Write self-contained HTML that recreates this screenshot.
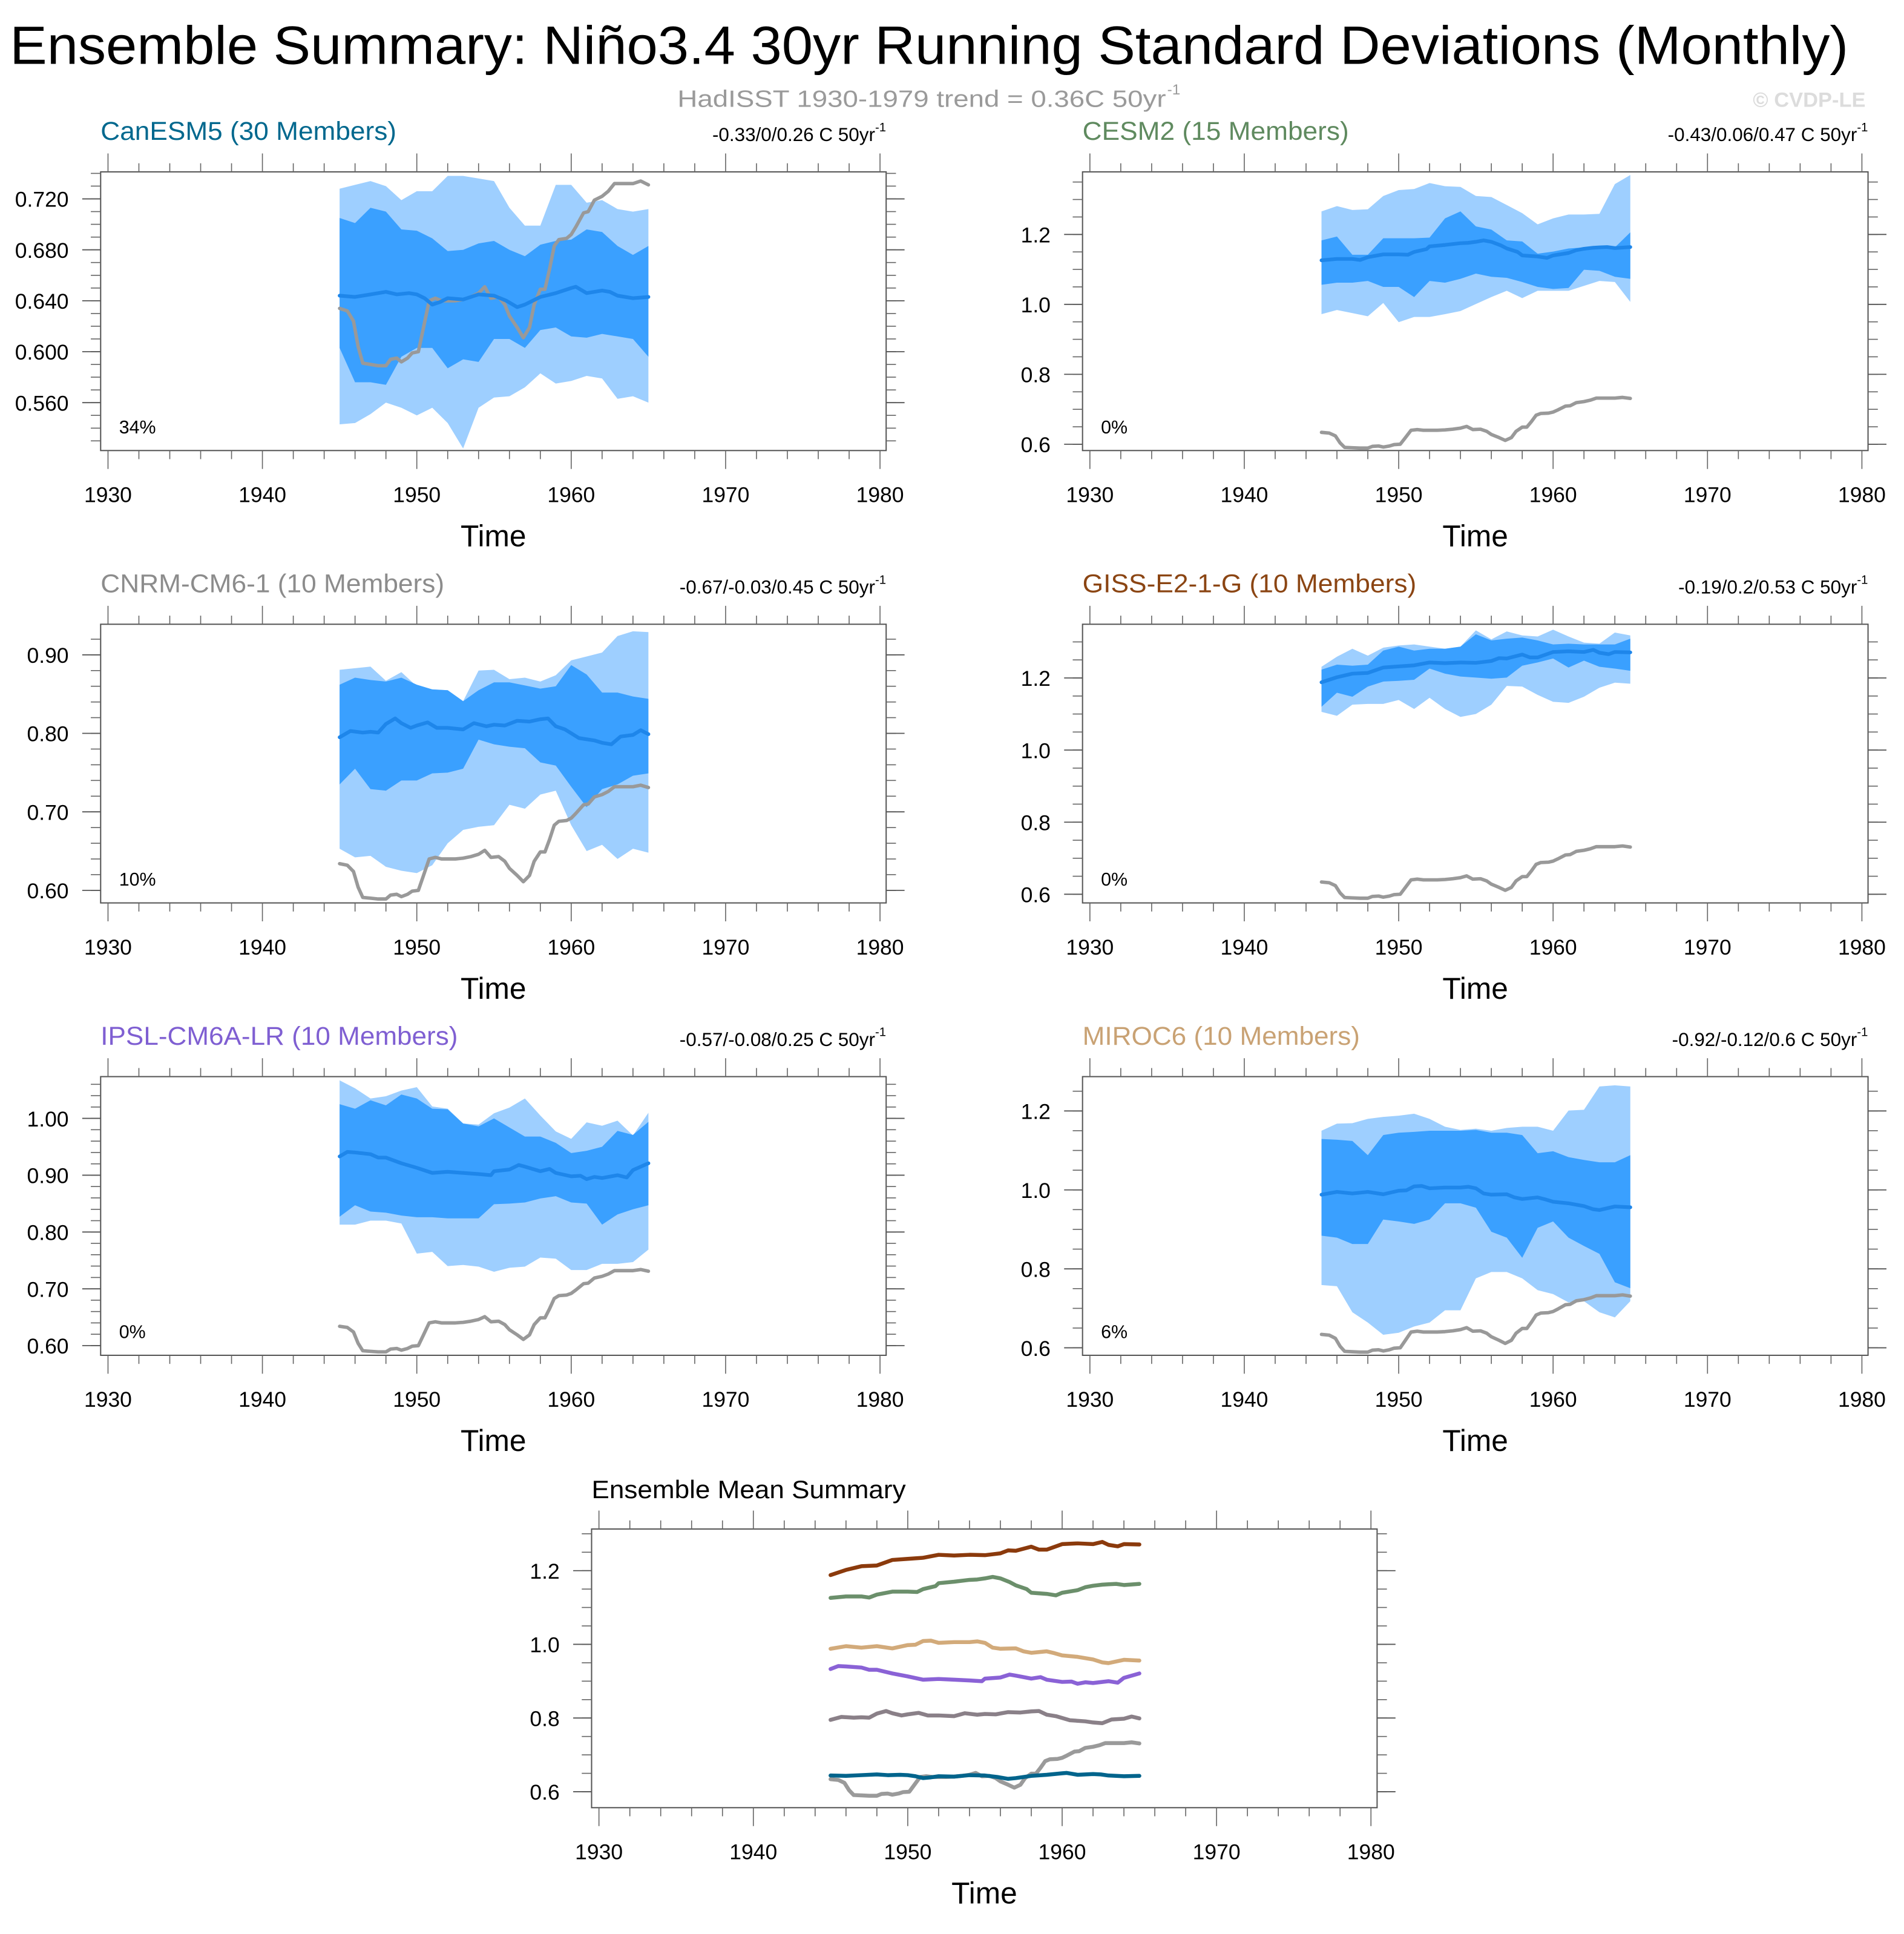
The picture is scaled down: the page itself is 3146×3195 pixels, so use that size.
<!DOCTYPE html>
<html><head><meta charset="utf-8">
<style>
html,body{margin:0;padding:0;background:#fff;}
svg{display:block;font-family:"Liberation Sans",Arial,sans-serif;}
</style></head>
<body>
<svg id="chart" xmlns="http://www.w3.org/2000/svg" width="3146" height="3195" viewBox="0 0 1551.3 1575.4" preserveAspectRatio="none">
<text x="757" y="52" font-size="44" text-anchor="middle" textLength="1498" lengthAdjust="spacingAndGlyphs">Ensemble Summary: Niño3.4 30yr Running Standard Deviations (Monthly)</text>
<text x="552" y="87" font-size="19" fill="#9a9a9a" textLength="398" lengthAdjust="spacingAndGlyphs">HadISST 1930-1979 trend = 0.36C 50yr</text>
<text x="951" y="77" font-size="12" fill="#9a9a9a">-1</text>
<text x="1520" y="87" font-size="17" font-weight="bold" fill="#dcdcdc" text-anchor="end">© CVDP-LE</text>
<g id="panels"></g>
</svg>
<script>
// ---------- data ----------
const bandYears = [1945,1946,1947,1948,1949,1950,1951,1952,1953,1954,1955,1956,1957,1958,1959,1960,1961,1962,1963,1964,1965];

const obsYears = [1945,1945.5,1945.9,1946.2,1946.5,1947,1947.5,1948,1948.3,1948.7,1949,1949.4,1949.7,1950.1,1950.4,1950.8,1951.2,1951.6,1952,1952.5,1953,1953.5,1954,1954.4,1954.8,1955.3,1955.7,1956,1956.5,1956.9,1957.3,1957.6,1958,1958.3,1958.6,1958.9,1959.2,1959.7,1960,1960.3,1960.8,1961.1,1961.5,1962,1962.4,1962.8,1963.5,1964,1964.5,1965];
const obsVals = [0.634,0.632,0.624,0.604,0.591,0.590,0.589,0.589,0.594,0.595,0.592,0.595,0.599,0.600,0.617,0.640,0.642,0.640,0.640,0.640,0.641,0.643,0.646,0.651,0.642,0.643,0.637,0.628,0.619,0.611,0.619,0.637,0.649,0.649,0.665,0.683,0.688,0.689,0.692,0.698,0.709,0.710,0.719,0.722,0.726,0.732,0.732,0.732,0.734,0.731];

// CanESM5
const canYears = [1945,1946,1947,1948,1948.7,1949.5,1950,1950.5,1951,1951.5,1952,1953,1954,1955,1955.8,1956.5,1957,1958,1959,1960,1960.3,1961,1962,1962.5,1963,1964,1965];
const canMean = [0.644,0.643,0.645,0.647,0.645,0.646,0.645,0.642,0.637,0.639,0.642,0.641,0.645,0.644,0.640,0.635,0.637,0.643,0.646,0.650,0.651,0.646,0.648,0.647,0.644,0.642,0.643];
const canLightTop = [0.728,0.731,0.734,0.730,0.719,0.726,0.726,0.738,0.738,0.736,0.734,0.713,0.699,0.699,0.731,0.731,0.717,0.719,0.712,0.710,0.712];
const canDarkTop = [0.705,0.701,0.713,0.710,0.696,0.695,0.689,0.679,0.680,0.685,0.687,0.680,0.675,0.684,0.687,0.688,0.696,0.694,0.683,0.676,0.683];
const canDarkBot = [0.603,0.576,0.576,0.574,0.596,0.603,0.603,0.587,0.594,0.592,0.610,0.610,0.603,0.617,0.619,0.612,0.611,0.614,0.612,0.610,0.596];
const canLightBot = [0.543,0.544,0.551,0.560,0.556,0.550,0.556,0.544,0.524,0.556,0.564,0.565,0.572,0.583,0.575,0.577,0.581,0.579,0.563,0.565,0.560];

// CESM2
const cesmYears = [1945,1946,1947,1947.5,1948,1949,1950,1950.6,1951,1951.8,1952,1953,1954,1954.5,1955,1955.5,1956,1956.6,1957,1957.7,1958,1959,1959.6,1960,1961,1961.5,1962,1962.6,1963,1963.5,1964,1965];
const cesmMean = [1.126,1.130,1.130,1.127,1.135,1.143,1.143,1.142,1.150,1.158,1.166,1.170,1.175,1.176,1.179,1.183,1.179,1.169,1.160,1.150,1.140,1.137,1.133,1.140,1.147,1.155,1.159,1.162,1.163,1.164,1.161,1.164];
const cesmLightTop = [1.266,1.281,1.270,1.272,1.310,1.327,1.330,1.347,1.338,1.336,1.310,1.307,1.284,1.261,1.229,1.246,1.257,1.257,1.259,1.344,1.370];
const cesmDarkTop = [1.183,1.194,1.142,1.142,1.189,1.189,1.189,1.191,1.246,1.266,1.223,1.214,1.183,1.180,1.145,1.151,1.160,1.163,1.163,1.163,1.206];
const cesmDarkBot = [1.056,1.062,1.062,1.067,1.050,1.050,1.021,1.067,1.062,1.073,1.088,1.079,1.076,1.064,1.050,1.044,1.047,1.099,1.096,1.079,1.073];
const cesmLightBot = [0.972,0.984,0.975,0.966,1.004,0.949,0.964,0.964,0.972,0.981,1.001,1.021,1.039,1.018,1.039,1.039,1.039,1.053,1.067,1.064,1.007];

// CNRM-CM6-1
const cnrmYears = [1945,1945.7,1946.5,1947,1947.5,1948,1948.6,1949,1949.6,1950,1950.7,1951.3,1952,1953,1953.7,1954.5,1955,1955.7,1956.5,1957.3,1958,1958.5,1959,1959.6,1960.5,1961.5,1962,1962.6,1963.2,1964,1964.5,1965];
const cnrmMean = [0.795,0.803,0.801,0.802,0.801,0.812,0.819,0.813,0.807,0.810,0.814,0.807,0.807,0.805,0.813,0.809,0.811,0.810,0.816,0.815,0.818,0.819,0.809,0.805,0.794,0.791,0.788,0.786,0.796,0.798,0.804,0.799];
const cnrmLightTop = [0.881,0.883,0.885,0.867,0.878,0.860,0.856,0.855,0.841,0.880,0.881,0.869,0.871,0.866,0.874,0.893,0.898,0.903,0.924,0.930,0.929];
const cnrmDarkTop = [0.862,0.871,0.868,0.866,0.871,0.862,0.856,0.855,0.841,0.855,0.865,0.865,0.861,0.857,0.860,0.887,0.875,0.852,0.852,0.847,0.844];
const cnrmDarkBot = [0.735,0.755,0.729,0.727,0.740,0.740,0.749,0.750,0.755,0.792,0.786,0.783,0.781,0.763,0.759,0.732,0.706,0.729,0.735,0.746,0.749];
const cnrmLightBot = [0.653,0.642,0.644,0.630,0.625,0.622,0.632,0.660,0.677,0.681,0.683,0.709,0.704,0.722,0.727,0.683,0.650,0.658,0.640,0.653,0.648];

// GISS-E2-1-G
const gissYears = [1945,1946,1947,1948,1949,1950,1951,1952,1953,1954,1955,1956,1956.5,1957,1958,1958.5,1959,1960,1961,1962,1962.6,1963,1963.6,1964,1965];
const gissMean = [1.188,1.202,1.212,1.214,1.229,1.232,1.235,1.243,1.241,1.243,1.242,1.247,1.255,1.254,1.265,1.257,1.257,1.272,1.274,1.272,1.278,1.270,1.266,1.272,1.271];
const gissLightTop = [1.231,1.259,1.281,1.262,1.284,1.290,1.293,1.287,1.281,1.287,1.332,1.307,1.329,1.318,1.315,1.334,1.315,1.298,1.295,1.326,1.318];
const gissDarkTop = [1.223,1.237,1.234,1.237,1.276,1.287,1.276,1.281,1.281,1.287,1.321,1.304,1.309,1.312,1.304,1.293,1.295,1.293,1.293,1.293,1.309];
const gissDarkBot = [1.120,1.159,1.148,1.176,1.190,1.192,1.195,1.226,1.212,1.204,1.201,1.198,1.201,1.234,1.243,1.254,1.229,1.248,1.231,1.226,1.220];
const gissLightBot = [1.106,1.095,1.126,1.128,1.128,1.139,1.114,1.145,1.114,1.092,1.100,1.126,1.178,1.176,1.153,1.134,1.131,1.148,1.173,1.187,1.184];

// IPSL-CM6A-LR
const ipslYears = [1945,1945.5,1946,1947,1947.5,1948,1949,1950,1951,1952,1953,1954,1954.8,1955,1956,1956.6,1957,1958,1958.6,1959,1960,1960.6,1961,1961.5,1962,1963,1963.6,1964,1965];
const ipslMean = [0.933,0.941,0.940,0.937,0.931,0.931,0.921,0.913,0.904,0.906,0.904,0.902,0.900,0.907,0.910,0.918,0.915,0.907,0.911,0.904,0.898,0.899,0.893,0.897,0.895,0.900,0.896,0.909,0.921];
const ipslLightTop = [1.067,1.053,1.035,1.039,1.049,1.055,1.021,1.017,0.991,0.989,1.009,1.019,1.035,1.005,0.977,0.964,0.993,0.987,0.996,0.970,1.010];
const ipslDarkTop = [1.025,1.017,1.032,1.023,1.042,1.035,1.017,1.016,0.991,0.986,1.000,0.984,0.968,0.968,0.957,0.939,0.943,0.950,0.978,0.971,0.994];
const ipslDarkBot = [0.827,0.847,0.836,0.834,0.829,0.826,0.826,0.824,0.824,0.824,0.849,0.850,0.852,0.859,0.863,0.852,0.850,0.813,0.831,0.840,0.847];
const ipslLightBot = [0.813,0.813,0.820,0.820,0.815,0.762,0.765,0.740,0.742,0.739,0.730,0.737,0.739,0.755,0.753,0.733,0.733,0.744,0.744,0.747,0.769];

// MIROC6
const mirocYears = [1945,1946,1947,1948,1949,1950,1950.5,1951,1951.5,1952,1953,1954,1954.5,1955,1955.5,1956,1957,1957.5,1958,1959,1959.5,1960,1961,1962,1962.6,1963,1964,1965];
const mirocMean = [0.988,0.995,0.991,0.995,0.989,0.998,0.999,1.009,1.010,1.004,1.006,1.006,1.008,1.004,0.991,0.988,0.989,0.981,0.977,0.981,0.976,0.970,0.966,0.959,0.951,0.949,0.958,0.956];
const mirocLightTop = [1.150,1.168,1.169,1.180,1.185,1.188,1.193,1.180,1.160,1.152,1.155,1.150,1.157,1.160,1.160,1.150,1.201,1.203,1.262,1.265,1.262];
const mirocDarkTop = [1.129,1.127,1.124,1.088,1.139,1.145,1.147,1.150,1.150,1.150,1.152,1.145,1.145,1.139,1.093,1.098,1.083,1.076,1.070,1.070,1.088];
const mirocDarkBot = [0.884,0.879,0.863,0.863,0.925,0.920,0.914,0.925,0.966,0.966,0.955,0.894,0.879,0.828,0.904,0.920,0.879,0.858,0.838,0.766,0.751];
const mirocLightBot = [0.759,0.756,0.690,0.664,0.633,0.638,0.654,0.664,0.695,0.695,0.776,0.792,0.792,0.776,0.746,0.736,0.715,0.718,0.690,0.677,0.718];

const xTickYears = [1930,1940,1950,1960,1970,1980];

// ---------- layout ----------
const NS = "http://www.w3.org/2000/svg";
const root = document.getElementById("panels");
function el(tag, attrs, parent, text) {
  const e = document.createElementNS(NS, tag);
  for (const k in attrs) e.setAttribute(k, attrs[k]);
  if (text !== undefined) e.textContent = text;
  (parent || root).appendChild(e);
  return e;
}
const LIGHT = "#9ecfff", DARK = "#3aa0ff", MEANC = "#1e86ea", OBSC = "#999999";

const panels = [
  {key:"canesm5", title:"CanESM5 (30 Members)", tw:241, tcol:"#00688e", trend:"-0.33/0/0.26 C 50yr", pct:"34%", x:82, y:140, ymin:0.5224, ymax:0.7412, ticks:[0.56,0.60,0.64,0.68,0.72], dec:3, minor:0.01,
   my:canYears, mv:canMean, lt:canLightTop, dt:canDarkTop, db:canDarkBot, lb:canLightBot},
  {key:"cesm2", title:"CESM2 (15 Members)", tw:217, tcol:"#5f8a5f", trend:"-0.43/0.06/0.47 C 50yr", pct:"0%", x:882, y:140, ymin:0.582, ymax:1.379, ticks:[0.6,0.8,1.0,1.2], dec:1, minor:0.05,
   my:cesmYears, mv:cesmMean, lt:cesmLightTop, dt:cesmDarkTop, db:cesmDarkBot, lb:cesmLightBot},
  {key:"cnrm", title:"CNRM-CM6-1 (10 Members)", tw:280, tcol:"#8c8c8c", trend:"-0.67/-0.03/0.45 C 50yr", pct:"10%", x:82, y:508.5, ymin:0.584, ymax:0.939, ticks:[0.6,0.7,0.8,0.9], dec:2, minor:0.02,
   my:cnrmYears, mv:cnrmMean, lt:cnrmLightTop, dt:cnrmDarkTop, db:cnrmDarkBot, lb:cnrmLightBot},
  {key:"giss", title:"GISS-E2-1-G (10 Members)", tw:272, tcol:"#8b4513", trend:"-0.19/0.2/0.53 C 50yr", pct:"0%", x:882, y:508.5, ymin:0.576, ymax:1.349, ticks:[0.6,0.8,1.0,1.2], dec:1, minor:0.05,
   my:gissYears, mv:gissMean, lt:gissLightTop, dt:gissDarkTop, db:gissDarkBot, lb:gissLightBot},
  {key:"ipsl", title:"IPSL-CM6A-LR (10 Members)", tw:291, tcol:"#7f5fd2", trend:"-0.57/-0.08/0.25 C 50yr", pct:"0%", x:82, y:877, ymin:0.583, ymax:1.0735, ticks:[0.6,0.7,0.8,0.9,1.0], dec:2, minor:0.02,
   my:ipslYears, mv:ipslMean, lt:ipslLightTop, dt:ipslDarkTop, db:ipslDarkBot, lb:ipslLightBot},
  {key:"miroc", title:"MIROC6 (10 Members)", tw:226, tcol:"#c9a274", trend:"-0.92/-0.12/0.6 C 50yr", pct:"6%", x:882, y:877, ymin:0.581, ymax:1.287, ticks:[0.6,0.8,1.0,1.2], dec:1, minor:0.05,
   my:mirocYears, mv:mirocMean, lt:mirocLightTop, dt:mirocDarkTop, db:mirocDarkBot, lb:mirocLightBot}
];
const W = 640, H = 227;

function drawAxes(g, px, py, ymin, ymax, ticks, dec, minor, sx, sy, name) {
  const box = el("rect", {x:px, y:py, width:W, height:H, fill:"none", stroke:"#555", "stroke-width":1}, g);
  
  
  for (let yr = 1930; yr <= 1980; yr += 2) {
    const major = yr % 10 === 0;
    const len = major ? 15 : 7;
    const X = sx(yr);
    el("line", {x1:X, y1:py+H, x2:X, y2:py+H+len, stroke:"#666", "stroke-width":0.8}, g);
    el("line", {x1:X, y1:py, x2:X, y2:py-len, stroke:"#666", "stroke-width":0.8}, g);
  }
  xTickYears.forEach(yr => {
    const t = el("text", {x:sx(yr), y:py+H+42, "font-size":17.5, "text-anchor":"middle"}, g, String(yr));
    
    
  });
  const xt = el("text", {x:px+W/2, y:py+H+78, "font-size":24.5, "text-anchor":"middle"}, g, "Time");
  
  
  const start = Math.ceil(ymin/minor - 1e-6);
  for (let k = start; k*minor <= ymax + 1e-9; k++) {
    const v = k*minor, Y = sy(v);
    el("line", {x1:px, y1:Y, x2:px-8, y2:Y, stroke:"#666", "stroke-width":0.8}, g);
    el("line", {x1:px+W, y1:Y, x2:px+W+8, y2:Y, stroke:"#666", "stroke-width":0.8}, g);
  }
  ticks.forEach(v => {
    const Y = sy(v);
    el("line", {x1:px, y1:Y, x2:px-15, y2:Y, stroke:"#555", "stroke-width":0.9}, g);
    el("line", {x1:px+W, y1:Y, x2:px+W+15, y2:Y, stroke:"#555", "stroke-width":0.9}, g);
    const t = el("text", {x:px-26, y:Y+6.5, "font-size":17.5, "text-anchor":"end"}, g, v.toFixed(dec));
    
    
  });
}

function linePath(xs, ys, sx, sy) {
  return xs.map((x,i) => (i?"L":"M") + sx(x).toFixed(2) + "," + sy(ys[i]).toFixed(2)).join("");
}
function bandPath(xs, top, bot, sx, sy) {
  let d = xs.map((x,i) => (i?"L":"M") + sx(x).toFixed(2) + "," + sy(top[i]).toFixed(2)).join("");
  for (let i = xs.length-1; i >= 0; i--) d += "L" + sx(xs[i]).toFixed(2) + "," + sy(bot[i]).toFixed(2);
  return d + "Z";
}

panels.forEach(p => {
  const g = el("g", {});
  
  
  const sx = yr => p.x + 6 + (yr - 1930) * (629/50);
  const sy = v => p.y + H - (v - p.ymin) / (p.ymax - p.ymin) * H;

  const tt = el("text", {x:p.x, y:p.y-26, "font-size":21, fill:p.tcol, textLength:p.tw, lengthAdjust:"spacingAndGlyphs"}, g, p.title);
  
  
  const tr = el("text", {x:p.x+W-9, y:p.y-25, "font-size":15.5, "text-anchor":"end"}, g, p.trend);
  
  
  const te = el("text", {x:p.x+W-9, y:p.y-33, "font-size":10}, g, "-1");
  
  

  const lb = el("path", {d:bandPath(bandYears, p.lt, p.lb, sx, sy), fill:LIGHT, stroke:"none"}, g);
  
  
  const db = el("path", {d:bandPath(bandYears, p.dt, p.db, sx, sy), fill:DARK, stroke:"none"}, g);
  
  
  const ob = el("path", {d:linePath(obsYears, obsVals, sx, sy), fill:"none", stroke:OBSC, "stroke-width":2.8, "stroke-linejoin":"round", "stroke-linecap":"round"}, g);
  
  
  const ml = el("path", {d:linePath(p.my, p.mv, sx, sy), fill:"none", stroke:MEANC, "stroke-width":3, "stroke-linejoin":"round", "stroke-linecap":"round"}, g);
  
  

  drawAxes(g, p.x, p.y, p.ymin, p.ymax, p.ticks, p.dec, p.minor, sx, sy, p.key);

  const pc = el("text", {x:p.x+15, y:p.y+213, "font-size":15}, g, p.pct);
  
  
});

// ---------- summary panel ----------
(function(){
  const px = 482, py = 1245.5, ymin = 0.5567, ymax = 1.313;
  const g = el("g", {});
  
  
  const sx = yr => px + 6 + (yr - 1930) * (629/50);
  const sy = v => py + H - (v - ymin) / (ymax - ymin) * H;
  const tt = el("text", {x:px, y:py-25, "font-size":20.5, textLength:256, lengthAdjust:"spacingAndGlyphs"}, g, "Ensemble Mean Summary");
  
  
  const series = [
    {n:"obs", xs:obsYears, ys:obsVals, c:"#9a9a9a"},
    {n:"cnrm", xs:cnrmYears, ys:cnrmMean, c:"#8a8088"},
    {n:"ipsl", xs:ipslYears, ys:ipslMean, c:"#8a62d6"},
    {n:"miroc", xs:mirocYears, ys:mirocMean, c:"#d2aa7a"},
    {n:"cesm2", xs:cesmYears, ys:cesmMean, c:"#6b8f6b"},
    {n:"giss", xs:gissYears, ys:gissMean, c:"#8b3a0c"},
    {n:"canesm5", xs:canYears, ys:canMean, c:"#00648c"}
  ];
  series.forEach(s => {
    const l = el("path", {d:linePath(s.xs, s.ys, sx, sy), fill:"none", stroke:s.c, "stroke-width":3.2, "stroke-linejoin":"round", "stroke-linecap":"round"}, g);
    
    
  });
  drawAxes(g, px, py, ymin, ymax, [0.6,0.8,1.0,1.2], 1, 0.05, sx, sy, "summary");
})();
</script>
</body></html>
